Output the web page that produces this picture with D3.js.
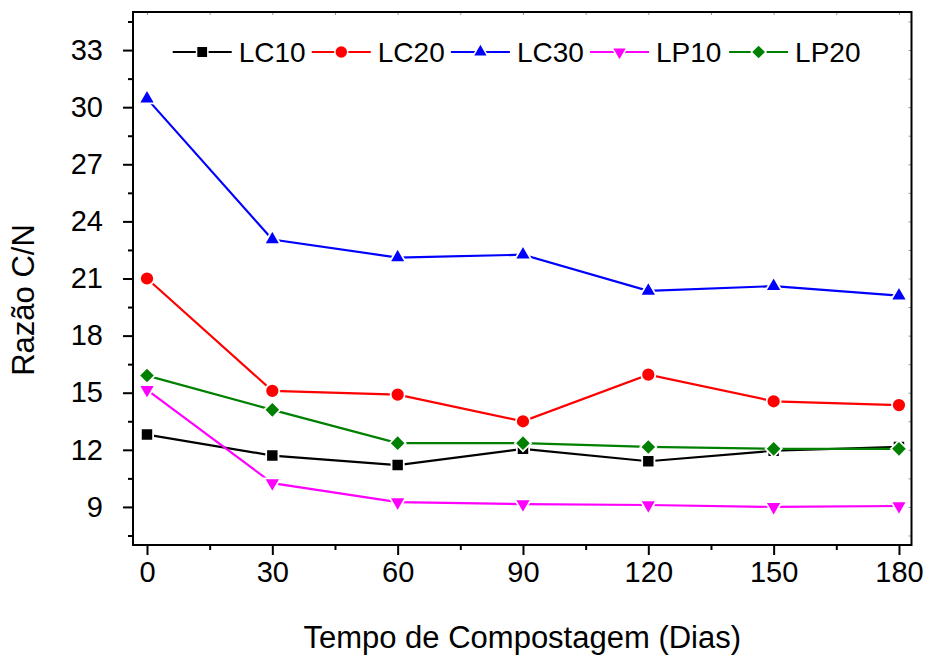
<!DOCTYPE html>
<html>
<head>
<meta charset="utf-8">
<script src="https://cdn.jsdelivr.net/npm/d3@7"></script>
<style>
  body { margin: 0; background: #fff; }
  text { font-family: Arial, "Liberation Sans", sans-serif; fill: #000; }
</style>
</head>
<body>
<div id="chart"></div>
<script>
// days of composting
var days = [0, 30, 60, 90, 120, 150, 180];

// C/N ratio per treatment
var lc10 = [12.8, 11.7, 11.2, 12.05, 11.4, 11.95, 12.15];
var lc20 = [21.0, 15.1, 14.9, 13.5, 15.95, 14.55, 14.35];
var lc30 = [30.45, 23.05, 22.1, 22.25, 20.35, 20.6, 20.1];
var lp10 = [15.15, 10.25, 9.25, 9.15, 9.1, 9.0, 9.05];
var lp20 = [15.9, 14.1, 12.35, 12.35, 12.15, 12.05, 12.05];

var seriesNames = ["LC10", "LC20", "LC30", "LP10", "LP20"];
var seriesValues = [lc10, lc20, lc30, lp10, lp20];

var xTicks = [0, 30, 60, 90, 120, 150, 180];
var yTicks = [9, 12, 15, 18, 21, 24, 27, 30, 33];

var colors = ["#000000", "#ff0000", "#0000ff", "#ff00ff", "#008000"];
var symbols = [d3.symbolSquare, d3.symbolCircle, d3.symbolTriangle, d3.symbolTriangle, d3.symbolSquare];
var symSize = [150, 155, 115, 115, 130];
var symRot = [0, 0, 0, 180, 45];

var width = 928, height = 655;
var margin = {top: 12, right: 16.5, bottom: 110, left: 133};

var svg = d3.select("#chart").append("svg")
    .attr("width", width)
    .attr("height", height);

var x = d3.scaleLinear().domain([-3.35, 183]).range([margin.left, width - margin.right]);
var y = d3.scaleLinear().domain([7, 35]).range([height - margin.bottom, margin.top]);

var x0 = x.range()[0], x1 = x.range()[1], y0 = y.range()[0], y1 = y.range()[1];

// minor ticks halfway between majors
var xMinor = d3.range(15, 180, 30);
var yMinor = d3.range(7.5, 35, 3);

// bottom axis
var bottomAx = svg.append("g").attr("transform", "translate(0," + y0 + ")");
bottomAx.call(d3.axisBottom(x).tickValues(xMinor).tickSize(5).tickFormat(""));
bottomAx.append("g").call(d3.axisBottom(x).tickValues(xTicks).tickSize(10).tickPadding(6));

// left axis
var leftAx = svg.append("g").attr("transform", "translate(" + x0 + ",0)");
leftAx.call(d3.axisLeft(y).tickValues(yMinor).tickSize(5).tickFormat(""));
leftAx.append("g").call(d3.axisLeft(y).tickValues(yTicks).tickSize(10).tickPadding(20));

svg.selectAll(".domain").remove();
svg.selectAll(".tick line").attr("stroke-width", 2);

// faint inward ticks on top and right
var topAx = svg.append("g").attr("transform", "translate(0," + y1 + ")");
topAx.call(d3.axisBottom(x).tickValues(xTicks.concat(xMinor)).tickSize(3).tickFormat(""));
var rightAx = svg.append("g").attr("transform", "translate(" + x1 + ",0)");
rightAx.call(d3.axisLeft(y).tickValues(yTicks.concat(yMinor)).tickSize(3).tickFormat(""));
svg.selectAll(".domain").remove();
topAx.selectAll("line").attr("stroke", "#999").attr("stroke-width", 1);
rightAx.selectAll("line").attr("stroke", "#999").attr("stroke-width", 1);

svg.selectAll(".tick text").attr("font-size", 29).attr("fill", "#000")
    .attr("font-family", "Arial, 'Liberation Sans', sans-serif");

// frame
svg.append("rect")
    .attr("x", x0).attr("y", y1)
    .attr("width", x1 - x0).attr("height", y0 - y1)
    .attr("fill", "none").attr("stroke", "#000").attr("stroke-width", 2);

// axis titles
svg.append("text")
    .attr("x", (x0 + x1) / 2).attr("y", 648)
    .attr("text-anchor", "middle").attr("font-size", 31)
    .text("Tempo de Compostagem (Dias)");

svg.append("text")
    .attr("transform", "translate(34," + 300 + ") rotate(-90)")
    .attr("text-anchor", "middle").attr("font-size", 31)
    .text("Razão C/N");

var line = d3.line()
    .x(function(d) { return x(d.day); })
    .y(function(d) { return y(d.value); });

seriesValues.forEach(function(vals, i) {
  var pts = days.map(function(d, j) { return {day: d, value: vals[j]}; });
  var g = svg.append("g");
  g.append("path")
      .datum(pts)
      .attr("fill", "none")
      .attr("stroke", colors[i])
      .attr("stroke-width", 2.2)
      .attr("d", line);
  g.selectAll("path.pt")
      .data(pts)
      .enter().append("path")
      .attr("class", "pt")
      .attr("d", d3.symbol().type(symbols[i]).size(symSize[i]))
      .attr("transform", function(d) {
        return "translate(" + x(d.day) + "," + y(d.value) + ") rotate(" + symRot[i] + ")";
      })
      .attr("fill", colors[i])
      .attr("stroke", "#fff")
      .attr("stroke-width", 1.8);
});

// legend
var legend = svg.append("g");
var legStep = 139.1, legX = 172.7, legY = 52;
seriesNames.forEach(function(name, i) {
  var lx = legX + i * legStep;
  legend.append("line")
      .attr("x1", lx).attr("x2", lx + 59)
      .attr("y1", legY).attr("y2", legY)
      .attr("stroke", colors[i]).attr("stroke-width", 2.2);
  legend.append("path")
      .attr("d", d3.symbol().type(symbols[i]).size(symSize[i] * 0.85))
      .attr("transform", "translate(" + (lx + 29.5) + "," + legY + ") rotate(" + symRot[i] + ")")
      .attr("fill", colors[i])
      .attr("stroke", "#fff").attr("stroke-width", 1.5);
  legend.append("text")
      .attr("x", lx + 66).attr("y", legY)
      .attr("dy", "0.36em")
      .attr("font-size", 28)
      .text(name);
});
</script>
</body>
</html>
